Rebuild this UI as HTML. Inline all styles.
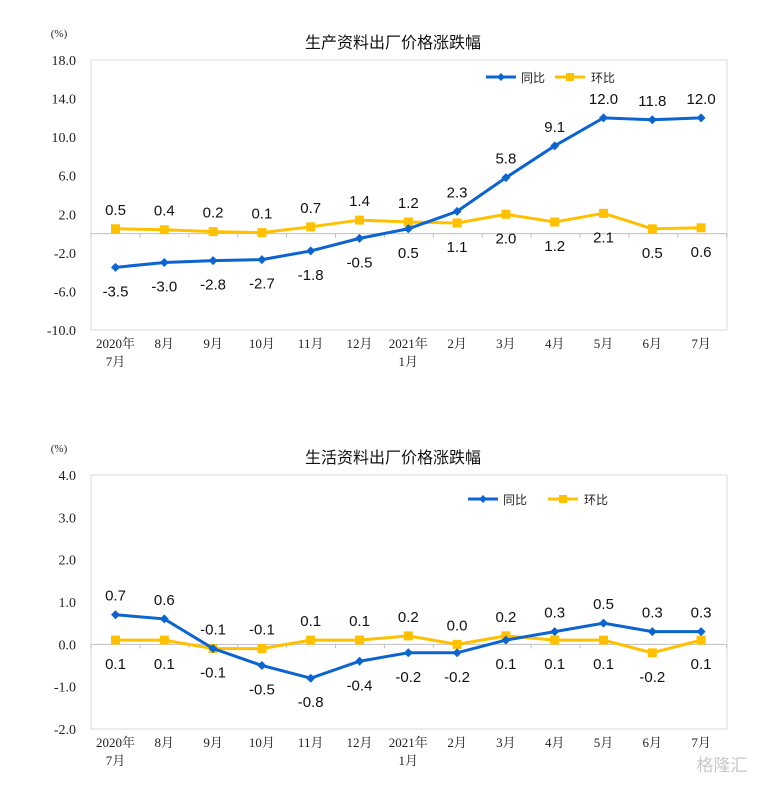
<!DOCTYPE html>
<html><head><meta charset="utf-8"><style>
body{margin:0;background:#fff;width:764px;height:781px;overflow:hidden}
svg text{font-family:"Liberation Sans","Noto Sans CJK SC",sans-serif}
svg text.serif{font-family:"Liberation Serif","Noto Serif CJK SC",serif}
</style></head><body>
<svg id="c" width="764" height="781"></svg>
<script>
const months=["2020年","8月","9月","10月","11月","12月","2021年","2月","3月","4月","5月","6月","7月"];
const months2=["7月","","","","","","1月","","","","","",""];
const prodYoy=[-3.5,-3.0,-2.8,-2.7,-1.8,-0.5,0.5,2.3,5.8,9.1,12.0,11.8,12.0];
const prodMom=[0.5,0.4,0.2,0.1,0.7,1.4,1.2,1.1,2.0,1.2,2.1,0.5,0.6];
const prodYoyPos=["b","b","b","b","b","b","b","a","a","a","a","a","a"];
const prodMomPos=["a","a","a","a","a","a","a","b","b","b","b","b","b"];
const prodTicks=[18,14,10,6,2,-2,-6,-10];
const lifeYoy=[0.7,0.6,-0.1,-0.5,-0.8,-0.4,-0.2,-0.2,0.1,0.3,0.5,0.3,0.3];
const lifeMom=[0.1,0.1,-0.1,-0.1,0.1,0.1,0.2,0.0,0.2,0.1,0.1,-0.2,0.1];
const lifeYoyPos=["a","a","b","b","b","b","b","b","b","a","a","a","a"];
const lifeMomPos=["b","b","a","a","a","a","a","a","a","b","b","b","b"];
const lifeTicks=[4,3,2,1,0,-1,-2];
const NS="http://www.w3.org/2000/svg";
const svg=document.getElementById('c');
function el(t,a,p){const e=document.createElementNS(NS,t);for(const k in a)e.setAttribute(k,a[k]);(p||svg).appendChild(e);return e;}
function txt(s,a,p){const e=el('text',a,p);e.textContent=s;return e;}
function chart(o){
  const g=el('g',{});
  
  
  const y=v=>o.top+(o.max-v)/(o.max-o.min)*(o.bot-o.top);
  const x=i=>115.5+i*48.8;
  el('rect',{x:91,y:o.top,width:636,height:o.bot-o.top,fill:'none',stroke:'#d9d9d9'},g);
  const t=txt(o.title,{x:393,y:o.top-12,'text-anchor':'middle','font-size':16,fill:'#111'},g);
  
  const u=txt('(%)',{x:59,y:o.top-23,'text-anchor':'middle','font-size':11,fill:'#222',class:'serif'},g);
  
  o.ticks.forEach(v=>{const tl=txt(o.fmt(v),{x:76,y:y(v)+5,'text-anchor':'end','font-size':14,fill:'#222',class:'serif'},g);
    });
  const y0=y(0);
  el('line',{x1:91,x2:727,y1:y0,y2:y0,stroke:'#bfbfbf'},g);
  for(let i=0;i<=13;i++){el('line',{x1:91+i*48.9,x2:91+i*48.9,y1:y0,y2:y0+4,stroke:'#bfbfbf'},g);}
  months.forEach((m,i)=>{const a=txt(m,{x:x(i),y:o.bot+18,'text-anchor':'middle','font-size':13,fill:'#222',class:'serif'},g);
    
    if(months2[i]){const b=txt(months2[i],{x:x(i),y:o.bot+36,'text-anchor':'middle','font-size':13,fill:'#222',class:'serif'},g);
    }});
  [[o.mom,'#ffc000','mom',o.momPos],[o.yoy,'#0b64d0','yoy',o.yoyPos]].forEach(([d,c,n,pos])=>{
    const pl=el('polyline',{points:d.map((v,i)=>x(i)+','+y(v)).join(' '),fill:'none',stroke:c,'stroke-width':3},g);
    
    d.forEach((v,i)=>{
      let m;
      if(n=='mom')m=el('rect',{x:x(i)-4.5,y:y(v)-4.5,width:9,height:9,fill:c},g);
      else m=el('path',{d:`M${x(i)},${y(v)-4.5}L${x(i)+4.5},${y(v)}L${x(i)},${y(v)+4.5}L${x(i)-4.5},${y(v)}Z`,fill:c},g);
      
      const ly=pos[i]=='a'?y(v)-14:y(v)+29;
      const l=txt(v.toFixed(1),{x:x(i),y:ly,'text-anchor':'middle','font-size':15,fill:'#111'},g);
      
    });
  });
  const L=o.leg;
  const lg=el('g',{},g);
  
  el('line',{x1:L[0],x2:L[0]+30,y1:L[2],y2:L[2],stroke:'#0b64d0','stroke-width':3},lg);
  el('path',{d:`M${L[0]+15},${L[2]-4}l4,4l-4,4l-4,-4z`,fill:'#0b64d0'},lg);
  txt('同比',{x:L[0]+35,y:L[2]+5,'font-size':12,fill:'#222'},lg);
  el('line',{x1:L[1],x2:L[1]+30,y1:L[2],y2:L[2],stroke:'#ffc000','stroke-width':3},lg);
  el('rect',{x:L[1]+11,y:L[2]-4,width:8,height:8,fill:'#ffc000'},lg);
  txt('环比',{x:L[1]+36,y:L[2]+5,'font-size':12,fill:'#222'},lg);
}
chart({name:'producer-goods-chart',title:'生产资料出厂价格涨跌幅',top:60,bot:330,max:18,min:-10,ticks:prodTicks,fmt:v=>v.toFixed(1),yoy:prodYoy,mom:prodMom,yoyPos:prodYoyPos,momPos:prodMomPos,leg:[486,555,77]});
chart({name:'consumer-goods-chart',title:'生活资料出厂价格涨跌幅',top:475,bot:729,max:4,min:-2,ticks:lifeTicks,fmt:v=>v.toFixed(1),yoy:lifeYoy,mom:lifeMom,yoyPos:lifeYoyPos,momPos:lifeMomPos,leg:[468,548,499]});
const w=txt('格隆汇',{x:722,y:771,'font-size':17,fill:'#c8c8c8','text-anchor':'middle'});


</script>
</body></html>
